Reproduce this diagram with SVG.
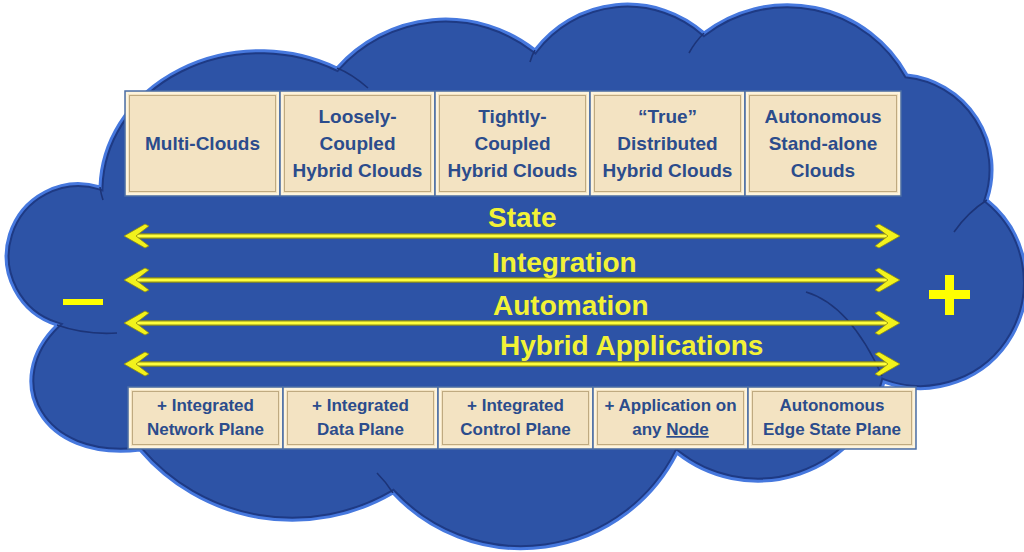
<svg xmlns="http://www.w3.org/2000/svg" width="1024" height="552" viewBox="0 0 1024 552">
<style>
.box{fill:#F3E3C2;stroke:#4B6FA8;stroke-width:1.5}
.bev{fill:none;stroke:#FFF8E4;stroke-width:1.6}
.bev2{fill:none;stroke:#BFAA80;stroke-width:1}
.bt{font-family:"Liberation Sans",Arial,sans-serif;font-weight:bold;fill:#2B4C8C;text-anchor:middle}
.top{font-size:19px}
.bot{font-size:17px}
.al{font-family:"Liberation Sans",Arial,sans-serif;font-weight:bold;font-size:28px;fill:#F2F236}
.sh1{stroke:#8F8F14;stroke-width:5.5;fill:none}
.sh2{stroke:#FFFF3C;stroke-width:3;fill:none}
.ah{fill:#F2F21C;stroke:#8C8C10;stroke-width:0.8}
.crease{fill:none;stroke:#1C3478;stroke-width:1.6}
.sign{fill:#FFFF00}
</style>
<defs>
<path id="cloudPath" d="M100,187 A160,140 0 0 1 337,68 A145,145 0 0 1 535,50 A116,116 0 0 1 704,33 A137,137 0 0 1 907,75 A95,95 0 0 1 987,200 A106,106 0 0 1 884,382 A130,130 0 0 1 677,453 A175,175 0 0 1 393,493 A200,200 0 0 1 140,450 C40,462 0,380 57,325 A72,72 0 0 1 100,187 Z"/>
<clipPath id="cloudClip"><use href="#cloudPath"/></clipPath>
<path id="ah" class="ah" d="M0,0 L21,-12 L25,-10 L12,0 L25,10 L21,12 Z"/>
</defs>
<rect width="1024" height="552" fill="#FFFFFF"/>
<g id="cloud">
<use href="#cloudPath" fill="#2D53A6"/>
<use href="#cloudPath" fill="none" stroke="#1E3A84" stroke-width="7" clip-path="url(#cloudClip)"/>
<use href="#cloudPath" fill="none" stroke="#4678DE" stroke-width="3"/>
<g clip-path="url(#cloudClip)">
<path class="crease" d="M337,68 Q352,74 368,88"/>
<path class="crease" d="M535,50 Q532,55 530,62"/>
<path class="crease" d="M704,33 Q695,42 689,53"/>
<path class="crease" d="M987,200 Q968,212 954,232"/>
<path class="crease" d="M806,292 Q850,305 882,376"/>
<path class="crease" d="M57,325 Q85,335 117,333"/>
<path class="crease" d="M377,473 Q386,482 393,493"/>
<path class="crease" d="M100,187 Q101,194 103,200"/>
</g>
</g>
<g id="top-multi">
<rect class="box" x="125" y="91" width="155" height="105"/>
<rect class="bev" x="127" y="93" width="151" height="101"/>
<rect class="bev2" x="129.5" y="95.5" width="146" height="96"/>
<text class="bt top" x="202.5" y="150">Multi-Clouds</text>
</g>
<g id="top-loose">
<rect class="box" x="280" y="91" width="155" height="105"/>
<rect class="bev" x="282" y="93" width="151" height="101"/>
<rect class="bev2" x="284.5" y="95.5" width="146" height="96"/>
<text class="bt top" x="357.5" y="123">Loosely-</text>
<text class="bt top" x="357.5" y="150">Coupled</text>
<text class="bt top" x="357.5" y="177">Hybrid Clouds</text>
</g>
<g id="top-tight">
<rect class="box" x="435" y="91" width="155" height="105"/>
<rect class="bev" x="437" y="93" width="151" height="101"/>
<rect class="bev2" x="439.5" y="95.5" width="146" height="96"/>
<text class="bt top" x="512.5" y="123">Tightly-</text>
<text class="bt top" x="512.5" y="150">Coupled</text>
<text class="bt top" x="512.5" y="177">Hybrid Clouds</text>
</g>
<g id="top-true">
<rect class="box" x="590" y="91" width="155" height="105"/>
<rect class="bev" x="592" y="93" width="151" height="101"/>
<rect class="bev2" x="594.5" y="95.5" width="146" height="96"/>
<text class="bt top" x="667.5" y="123">“True”</text>
<text class="bt top" x="667.5" y="150">Distributed</text>
<text class="bt top" x="667.5" y="177">Hybrid Clouds</text>
</g>
<g id="top-auto">
<rect class="box" x="745" y="91" width="156" height="105"/>
<rect class="bev" x="747" y="93" width="152" height="101"/>
<rect class="bev2" x="749.5" y="95.5" width="147" height="96"/>
<text class="bt top" x="823" y="123">Autonomous</text>
<text class="bt top" x="823" y="150">Stand-alone</text>
<text class="bt top" x="823" y="177">Clouds</text>
</g>
<g id="connectors">
<line class="sh1" x1="134" y1="236" x2="890" y2="236"/>
<line class="sh2" x1="134" y1="236" x2="890" y2="236"/>
<use href="#ah" transform="translate(124,236)"/>
<use href="#ah" transform="translate(900,236) scale(-1,1)"/>
<line class="sh1" x1="134" y1="280" x2="890" y2="280"/>
<line class="sh2" x1="134" y1="280" x2="890" y2="280"/>
<use href="#ah" transform="translate(124,280)"/>
<use href="#ah" transform="translate(900,280) scale(-1,1)"/>
<line class="sh1" x1="134" y1="323" x2="890" y2="323"/>
<line class="sh2" x1="134" y1="323" x2="890" y2="323"/>
<use href="#ah" transform="translate(124,323)"/>
<use href="#ah" transform="translate(900,323) scale(-1,1)"/>
<line class="sh1" x1="134" y1="364" x2="890" y2="364"/>
<line class="sh2" x1="134" y1="364" x2="890" y2="364"/>
<use href="#ah" transform="translate(124,364)"/>
<use href="#ah" transform="translate(900,364) scale(-1,1)"/>
<text class="al" x="488" y="227">State</text>
<text class="al" x="492" y="272">Integration</text>
<text class="al" x="493" y="315">Automation</text>
<text class="al" x="500" y="355">Hybrid Applications</text>
</g>
<g id="minus"><rect class="sign" x="63" y="299" width="40" height="6"/></g>
<g id="plus"><rect class="sign" x="929" y="290" width="41" height="9"/><rect class="sign" x="945" y="275" width="9" height="40"/></g>
<g id="bot-network">
<rect class="box" x="128" y="387" width="155" height="62"/>
<rect class="bev" x="130" y="389" width="151" height="58"/>
<rect class="bev2" x="132.5" y="391.5" width="146" height="53"/>
<text class="bt bot" x="205.5" y="411">+ Integrated</text>
<text class="bt bot" x="205.5" y="435">Network Plane</text>
</g>
<g id="bot-data">
<rect class="box" x="283" y="387" width="155" height="62"/>
<rect class="bev" x="285" y="389" width="151" height="58"/>
<rect class="bev2" x="287.5" y="391.5" width="146" height="53"/>
<text class="bt bot" x="360.5" y="411">+ Integrated</text>
<text class="bt bot" x="360.5" y="435">Data Plane</text>
</g>
<g id="bot-control">
<rect class="box" x="438" y="387" width="155" height="62"/>
<rect class="bev" x="440" y="389" width="151" height="58"/>
<rect class="bev2" x="442.5" y="391.5" width="146" height="53"/>
<text class="bt bot" x="515.5" y="411">+ Integrated</text>
<text class="bt bot" x="515.5" y="435">Control Plane</text>
</g>
<g id="bot-app">
<rect class="box" x="593" y="387" width="155" height="62"/>
<rect class="bev" x="595" y="389" width="151" height="58"/>
<rect class="bev2" x="597.5" y="391.5" width="146" height="53"/>
<text class="bt bot" x="670.5" y="411">+ Application on</text>
<text class="bt bot" x="670.5" y="435">any <tspan text-decoration="underline">Node</tspan></text>
</g>
<g id="bot-edge">
<rect class="box" x="748" y="387" width="168" height="62"/>
<rect class="bev" x="750" y="389" width="164" height="58"/>
<rect class="bev2" x="752.5" y="391.5" width="159" height="53"/>
<text class="bt bot" x="832" y="411">Autonomous</text>
<text class="bt bot" x="832" y="435">Edge State Plane</text>
</g>
</svg>
